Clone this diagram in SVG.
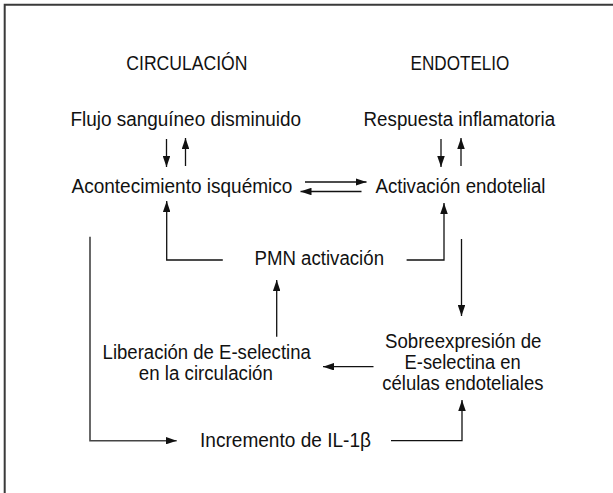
<svg xmlns="http://www.w3.org/2000/svg" width="613" height="493" viewBox="0 0 613 493">
<style>
text{font-family:"Liberation Sans",Arial,sans-serif;font-size:20px;fill:#111}
.c{fill:none;stroke:#111;stroke-width:1.3}
.g{fill:none;stroke:#444;stroke-width:1.6}
.frame{fill:none;stroke:#3a3a3a;stroke-width:2}
</style>
<defs>
<marker id="ah" viewBox="0 0 11 7.5" refX="11" refY="3.75" markerWidth="11" markerHeight="7.5" markerUnits="userSpaceOnUse" orient="auto">
<path d="M0,0 L11,3.75 L0,7.5 z" fill="#111"/>
</marker>
</defs>
<rect width="613" height="493" fill="#fff"/>
<path class="frame" d="M4.7,493 V4.7 H613"/>
<g id="hdr-circ"><text x="126.3" y="70" textLength="121.2" lengthAdjust="spacingAndGlyphs">CIRCULACIÓN</text></g>
<g id="hdr-endo"><text x="410.5" y="70" textLength="98.9" lengthAdjust="spacingAndGlyphs">ENDOTELIO</text></g>
<g id="flujo"><text x="70.4" y="126" textLength="230.6" lengthAdjust="spacingAndGlyphs">Flujo sanguíneo disminuido</text></g>
<g id="respuesta"><text x="363.6" y="126" textLength="191.5" lengthAdjust="spacingAndGlyphs">Respuesta inflamatoria</text></g>
<g id="acont"><text x="71.5" y="193" textLength="220.9" lengthAdjust="spacingAndGlyphs">Acontecimiento isquémico</text></g>
<g id="activ"><text x="375.5" y="193" textLength="170" lengthAdjust="spacingAndGlyphs">Activación endotelial</text></g>
<g id="pmn"><text x="254.5" y="265" textLength="129.5" lengthAdjust="spacingAndGlyphs">PMN activación</text></g>
<g id="liberacion">
<text x="102.6" y="359" textLength="208.2" lengthAdjust="spacingAndGlyphs">Liberación de E-selectina</text>
<text x="138.8" y="380" textLength="134.1" lengthAdjust="spacingAndGlyphs">en la circulación</text>
</g>
<g id="sobre">
<text x="385" y="348" textLength="156.4" lengthAdjust="spacingAndGlyphs">Sobreexpresión de</text>
<text x="404.6" y="369" textLength="116.1" lengthAdjust="spacingAndGlyphs">E-selectina en</text>
<text x="382.3" y="390" textLength="161.1" lengthAdjust="spacingAndGlyphs">células endoteliales</text>
</g>
<g id="il1"><text x="200" y="447" textLength="171" lengthAdjust="spacingAndGlyphs">Incremento de IL-1β</text></g>
<g id="connectors">
<path class="c" marker-end="url(#ah)" d="M166.5,139 V167"/>
<path class="c" marker-end="url(#ah)" d="M185.5,166 V138"/>
<path class="c" marker-end="url(#ah)" d="M441,139 V167"/>
<path class="c" marker-end="url(#ah)" d="M461,166 V138"/>
<path class="c" marker-end="url(#ah)" d="M305,182 H366.5"/>
<path class="c" marker-end="url(#ah)" d="M361.5,191.5 H300.5"/>
<path class="c" marker-end="url(#ah)" d="M222.8,260 H166.7 V201"/>
<path class="c" marker-end="url(#ah)" d="M406.6,260 H444 V203"/>
<path class="c" marker-end="url(#ah)" d="M461.5,239 V316"/>
<path class="c" marker-end="url(#ah)" d="M373.5,366.7 H323"/>
<path class="c" marker-end="url(#ah)" d="M276.7,336.7 V280"/>
<path class="g" marker-end="url(#ah)" d="M90,236.7 V440.7 H176.7"/>
<path class="c" marker-end="url(#ah)" d="M391,440.7 H462 V400"/>
</g>
</svg>
